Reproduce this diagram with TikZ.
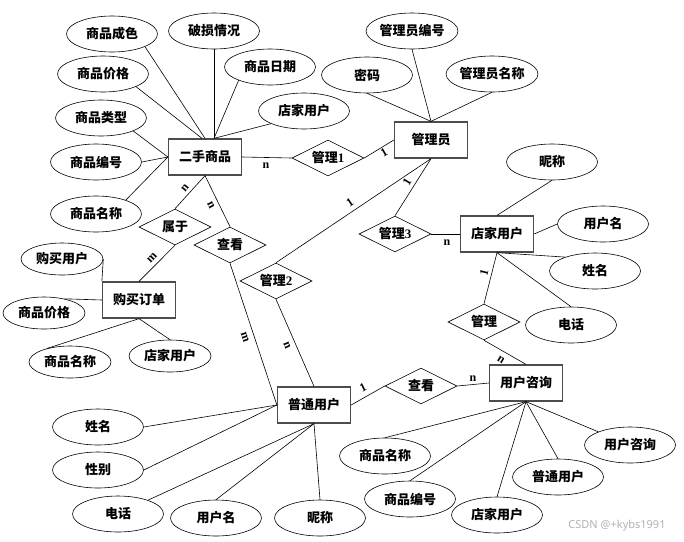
\documentclass[tikz,border=0pt]{standalone}
\usepackage{fontspec}
\setmainfont{Liberation Serif}
\newfontfamily\cjk{Noto Sans CJK SC}
\newfontfamily\wmfont{Noto Sans}
\usetikzlibrary{shapes.geometric}
\begin{document}
\begin{tikzpicture}[x=1pt,y=-1pt,
  attr/.style={draw, ellipse, line width=0.6pt, minimum width=91pt, minimum height=36pt, inner sep=0pt, font=\cjk\bfseries\fontsize{13}{13}\selectfont},
  sattr/.style={attr, minimum width=82pt, minimum height=32pt},
  ent/.style={draw=black!70, line width=1.3pt, rectangle, minimum width=73pt, minimum height=36pt, inner sep=0pt, font=\cjk\bfseries\fontsize{13}{13}\selectfont},
  rel/.style={draw, diamond, aspect=2, line width=0.6pt, minimum width=72pt, minimum height=36pt, inner sep=0pt, font=\bfseries\fontsize{13}{13}\selectfont},
  card/.style={font=\bfseries\fontsize{12}{12}\selectfont, inner sep=0pt},
  conn/.style={line width=0.6pt}]
\useasboundingbox[fill=white] (0,0) rectangle (684,541);

% entities
\node[ent] (er) at (205,157) {二手商品};
\node[ent] (gly) at (431,140) {管理员};
\node[ent] (djyh) at (497,234) {店家用户};
\node[ent] (zx) at (526,383) {用户咨询};
\node[ent] (pt) at (314,405) {普通用户};
\node[ent] (gm) at (139,300) {购买订单};

% relations
\node[rel] (gl1) at (328,158) {{\cjk 管理}1};
\node[rel] (gl2) at (276,281) {{\cjk 管理}2};
\node[rel] (gl3) at (395,234) {{\cjk 管理}3};
\node[rel] (gl) at (484,322) {\cjk 管理};
\node[rel] (sy) at (175,227) {\cjk 属于};
\node[rel] (ck1) at (230,245) {\cjk 查看};
\node[rel] (ck2) at (421,386) {\cjk 查看};

% attributes of 二手商品
\node[attr] (cs) at (112,34) {商品成色};
\node[attr] (ps) at (214,31) {破损情况};
\node[attr] (jg) at (103,74) {商品价格};
\node[attr] (rq) at (270,67) {商品日期};
\node[attr] (lx) at (101,118) {商品类型};
\node[attr] (dj1) at (304,111) {店家用户};
\node[attr] (bh) at (96,162) {商品编号};
\node[attr] (mc) at (96,214) {商品名称};

% attributes of 管理员
\node[attr] (mm) at (367,75) {密码};
\node[attr] (glbh) at (412,31) {管理员编号};
\node[attr] (glmc) at (492,74) {管理员名称};

% attributes of 店家用户
\node[attr] (nc1) at (552,162) {昵称};
\node[attr] (yhm1) at (603,224) {用户名};
\node[attr] (xm1) at (595,271) {姓名};
\node[attr] (dh1) at (571,325) {电话};

% attributes of 用户咨询
\node[attr] (zmc) at (385,456) {商品名称};
\node[attr] (zbh) at (410,499) {商品编号};
\node[attr] (zdj) at (497,515) {店家用户};
\node[attr] (zpt) at (558,477) {普通用户};
\node[attr] (zzx) at (630,445) {用户咨询};

% attributes of 普通用户
\node[attr] (xm2) at (98,427) {姓名};
\node[attr] (xb) at (98,470) {性别};
\node[attr] (dh2) at (118,514) {电话};
\node[attr] (yhm2) at (216,518) {用户名};
\node[attr] (nc2) at (320,518) {昵称};

% attributes of 购买订单
\node[sattr] (gmyh) at (62,259) {购买用户};
\node[sattr] (gjg) at (44,313) {商品价格};
\node[sattr] (gmc) at (70,362) {商品名称};
\node[sattr] (gdj) at (170,356) {店家用户};

% connectors: 二手商品
\draw[conn] (cs.-21) -- (er.north);
\draw[conn] (jg.-21) -- ([xshift=-3pt]er.north);
\draw[conn] (ps.south) -- ([xshift=9pt]er.north);
\draw[conn] (rq.203) -- ([xshift=9pt]er.north);
\draw[conn] (dj1.201) -- ([xshift=9pt]er.north);
\draw[conn] (lx.-22) -- (er.west);
\draw[conn] (bh.east) -- (er.west);
\draw[conn] (mc.25) -- (er.west);
\draw[conn] (er.east) -- (gl1.west);
\draw[conn] (er.south) -- (sy.north);
\draw[conn] (er.south) -- (ck1.north);
\draw[conn] (sy.south) -- (gm.north);
\draw[conn] (ck1.south) -- (pt.west);

% connectors: 管理员
\draw[conn] (mm.south) -- (gly.north);
\draw[conn] (glbh.south) -- (gly.north);
\draw[conn] (glmc.south) -- (gly.north);
\draw[conn] (gly.west) -- (gl1.east);
\draw[conn] (gly.south) -- (gl2.north);
\draw[conn] (gly.south) -- (gl3.north);
\draw[conn] (gl2.south) -- (pt.north);
\draw[conn] (gl3.east) -- (djyh.west);

% connectors: 店家用户
\draw[conn] (nc1.south) -- (djyh.north);
\draw[conn] (yhm1.west) -- (djyh.east);
\draw[conn] (xm1.155) -- (djyh.south);
\draw[conn] (dh1.north) -- (djyh.south);
\draw[conn] (djyh.south) -- (gl.north);
\draw[conn] (gl.south) -- (zx.north);

% connectors: 用户咨询
\draw[conn] (pt.east) -- (ck2.west);
\draw[conn] (ck2.east) -- (zx.west);
\draw[conn] (zx.south) -- (zmc.north);
\draw[conn] (zx.south) -- (zbh.north);
\draw[conn] (zx.south) -- (zdj.north);
\draw[conn] (zx.south) -- (zpt.north);
\draw[conn] (zx.south) -- (zzx);

% connectors: 普通用户
\draw[conn] (xm2.east) -- (pt.west);
\draw[conn] (xb.east) -- (pt.west);
\draw[conn] (dh2) -- (pt.south);
\draw[conn] (yhm2.north) -- (pt.south);
\draw[conn] (nc2.north) -- (pt.south);

% connectors: 购买订单
\draw[conn] (gmyh.east) -- (gm.north west);
\draw[conn] (gjg.35) -- (gm.west);
\draw[conn] (gmc.150) -- (gm.south);
\draw[conn] (gdj.north) -- (gm.south);

% cardinalities
\node[card] (c1) at (266,166) {n};
\node[card, rotate=50] (c2) at (185,188) {n};
\node[card, rotate=-63] (c3) at (211,205) {n};
\node[card, rotate=46] (c4) at (152,258) {m};
\node[card, rotate=-71] (c5) at (245,337) {m};
\node[card, rotate=-67] (c6) at (287,345) {n};
\node[card, rotate=30] (c7) at (384,153) {1};
\node[card, rotate=34] (c8) at (350,203) {1};
\node[card, rotate=59] (c9) at (407,182) {1};
\node[card] (c10) at (447,243) {n};
\node[card, rotate=75] (c11) at (484,273) {1};
\node[card, rotate=-32] (c12) at (501,360) {n};
\node[card, rotate=27] (c13) at (363,388) {1};
\node[card] (c14) at (473,379) {n};

% watermark
\node[font=\wmfont\fontsize{11}{11}\selectfont, text=black!30, inner sep=0pt] (wm) at (617,526) {CSDN @+kybs1991};
\end{tikzpicture}
\end{document}
